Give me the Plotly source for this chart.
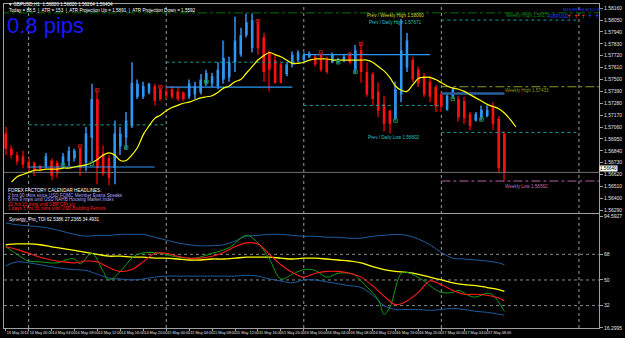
import plotly.graph_objects as go
from plotly.subplots import make_subplots

# ---------------- data ----------------
bar_index = list(range(88))
opens = [1.5700, 1.5686, 1.5680, 1.5679, 1.5674, 1.5673, 1.5670, 1.5670, 1.5675, 1.5673,
         1.5671, 1.5674, 1.5677, 1.5686, 1.5673, 1.5696, 1.5732, 1.5682, 1.5677, 1.5668,
         1.5688, 1.5696, 1.5707, 1.5734, 1.5734, 1.5738, 1.5744, 1.5741, 1.5739, 1.5741,
         1.5739, 1.5738, 1.5734, 1.5736, 1.5738, 1.5746, 1.5746, 1.5744, 1.5750, 1.5752,
         1.5766, 1.5773, 1.5791, 1.5779, 1.5803, 1.5789, 1.5775, 1.5768, 1.5764, 1.5755,
         1.5764, 1.5768, 1.5768, 1.5771, 1.5771, 1.5773, 1.5768, 1.5766, 1.5766, 1.5768,
         1.5773, 1.5759, 1.5777, 1.5757, 1.5755, 1.5739, 1.5727, 1.5721, 1.5714, 1.5736,
         1.5761, 1.5768, 1.5759, 1.5753, 1.5748, 1.5743, 1.5736, 1.5722, 1.5734, 1.5732,
         1.5730, 1.5718, 1.5712, 1.5714, 1.5716, 1.5726, 1.5714, 1.5700]
highs = [1.5706, 1.5689, 1.5683, 1.5684, 1.5677, 1.5674, 1.5671, 1.5682, 1.5677, 1.5675,
         1.5682, 1.5688, 1.5686, 1.5689, 1.5706, 1.5746, 1.5741, 1.5689, 1.5680, 1.5712,
         1.5706, 1.5720, 1.5766, 1.5750, 1.5748, 1.5747, 1.5746, 1.5744, 1.5744, 1.5744,
         1.5743, 1.5739, 1.5750, 1.5748, 1.5755, 1.5759, 1.5756, 1.5766, 1.5786, 1.5771,
         1.5808, 1.5798, 1.5811, 1.5811, 1.5805, 1.5793, 1.5777, 1.5773, 1.5766, 1.5766,
         1.5776, 1.5777, 1.5775, 1.5776, 1.5773, 1.5775, 1.5771, 1.5775, 1.5770, 1.5773,
         1.5775, 1.5782, 1.5784, 1.5766, 1.5757, 1.5747, 1.5735, 1.5722, 1.5748, 1.5806,
         1.5793, 1.5771, 1.5762, 1.5756, 1.5753, 1.5745, 1.5738, 1.5738, 1.5743, 1.5735,
         1.5734, 1.5720, 1.5720, 1.5726, 1.5726, 1.5729, 1.5716, 1.5702]
lows = [1.5680, 1.5677, 1.5671, 1.5668, 1.5665, 1.5661, 1.5665, 1.5668, 1.5657, 1.5659,
        1.5668, 1.5670, 1.5674, 1.5661, 1.5665, 1.5674, 1.5653, 1.5661, 1.5652, 1.5653,
        1.5680, 1.5685, 1.5705, 1.5732, 1.5732, 1.5736, 1.5726, 1.5730, 1.5732, 1.5732,
        1.5730, 1.5730, 1.5732, 1.5732, 1.5736, 1.5744, 1.5743, 1.5741, 1.5746, 1.5748,
        1.5757, 1.5771, 1.5789, 1.5775, 1.5773, 1.5748, 1.5739, 1.5746, 1.5746, 1.5753,
        1.5761, 1.5766, 1.5766, 1.5770, 1.5762, 1.5757, 1.5755, 1.5765, 1.5765, 1.5766,
        1.5764, 1.5756, 1.5747, 1.5734, 1.5726, 1.5715, 1.5702, 1.5700, 1.5712, 1.5729,
        1.5757, 1.5747, 1.5743, 1.5734, 1.5729, 1.5720, 1.5720, 1.5721, 1.5732, 1.5711,
        1.5709, 1.5703, 1.5711, 1.5712, 1.5715, 1.5703, 1.5663, 1.5656]
closes = [1.5686, 1.5680, 1.5674, 1.5671, 1.5668, 1.5665, 1.5666, 1.5679, 1.5661, 1.5663,
          1.5679, 1.5684, 1.5684, 1.5668, 1.5700, 1.5732, 1.5668, 1.5663, 1.5659, 1.5700,
          1.5700, 1.5712, 1.5747, 1.5746, 1.5744, 1.5746, 1.5730, 1.5732, 1.5735, 1.5734,
          1.5732, 1.5732, 1.5746, 1.5744, 1.5750, 1.5756, 1.5753, 1.5759, 1.5770, 1.5766,
          1.5786, 1.5791, 1.5803, 1.5805, 1.5779, 1.5757, 1.5759, 1.5747, 1.5747, 1.5764,
          1.5773, 1.5775, 1.5773, 1.5774, 1.5764, 1.5759, 1.5757, 1.5773, 1.5769, 1.5771,
          1.5766, 1.5777, 1.5757, 1.5736, 1.5732, 1.5721, 1.5709, 1.5709, 1.5741, 1.5777,
          1.5786, 1.5750, 1.5746, 1.5736, 1.5734, 1.5725, 1.5725, 1.5735, 1.5741, 1.5715,
          1.5714, 1.5707, 1.5718, 1.5722, 1.5722, 1.5709, 1.5668, 1.5664]

ma_index = list(range(1, 90))
ma_values = [1.5655, 1.5660, 1.5662, 1.5664, 1.5666, 1.5666, 1.5667, 1.5667, 1.5667, 1.5668,
             1.5668, 1.5669, 1.5670, 1.5671, 1.5673, 1.5676, 1.5680, 1.5682, 1.5680, 1.5675,
             1.5675, 1.5680, 1.5687, 1.5699, 1.5707, 1.5714, 1.5717, 1.5721, 1.5724, 1.5726,
             1.5728, 1.5729, 1.5731, 1.5733, 1.5734, 1.5735, 1.5738, 1.5742, 1.5744, 1.5748,
             1.5750, 1.5756, 1.5762, 1.5768, 1.5772, 1.5775, 1.5773, 1.5771, 1.5768, 1.5765,
             1.5765, 1.5766, 1.5768, 1.5769, 1.5769, 1.5769, 1.5768, 1.5768, 1.5768, 1.5768,
             1.5768, 1.5768, 1.5768, 1.5766, 1.5762, 1.5758, 1.5752, 1.5744, 1.5740, 1.5739,
             1.5745, 1.5751, 1.5752, 1.5752, 1.5750, 1.5747, 1.5744, 1.5742, 1.5741, 1.5739,
             1.5736, 1.5733, 1.5730, 1.5727, 1.5725, 1.5723, 1.5719, 1.5713, 1.5706]

# daily open segments
day_open_start = [4, 28, 52]
day_open_end = [26, 50, 74]
day_open_price = [1.5669, 1.5743, 1.5773]
today_open = {"start": 76, "end": 87, "price": 1.5737}

# dotted daily range levels
level_start = [4, 28, 52, 76, 76]
level_end = [28, 52, 76, 100, 100]
level_price = [1.5708, 1.5766, 1.5726, 1.5701, 1.5805]

weekly_high = 1.58117
weekly_mid = 1.57433
weekly_low = 1.5656
bid_price = 1.5664

red_marker_idx = [13, 16, 27, 44, 55, 60, 62]
red_marker_price = [1.5688, 1.5740, 1.5743, 1.5804, 1.5775, 1.5773, 1.5783]
green_marker_idx = [10, 15, 21, 35, 58, 61, 68, 78, 83]
green_marker_price = [1.5671, 1.5672, 1.5687, 1.5748, 1.5766, 1.5757, 1.5712, 1.5732, 1.5713]

price_ticks = [1.5629, 1.5640, 1.5651, 1.5662, 1.5673, 1.5684, 1.5695, 1.5706, 1.5717,
               1.5728, 1.5739, 1.5750, 1.5761, 1.5772, 1.5783, 1.5794, 1.5805, 1.5816]

day_sep_idx = [4, 28, 52, 76, 100]
time_tick_idx = list(range(0, 88, 4))
time_labels = ["13 May 2013",
               "14 May 00:00", "14 May 04:00", "14 May 08:00", "14 May 12:00", "14 May 16:00", "14 May 20:00",
               "15 May 00:00", "15 May 04:00", "15 May 08:00", "15 May 12:00", "15 May 16:00", "15 May 20:00",
               "16 May 00:00", "16 May 04:00", "16 May 08:00", "16 May 12:00", "16 May 16:00", "16 May 20:00",
               "17 May 00:00", "17 May 04:00", "17 May 08:00"]

# TDI indicator
tdi_index = list(range(0, 88, 2)) + [87]
tdi_upper = [90.0, 88.7, 88.0, 87.3, 86.0, 84.0, 82.0, 80.7, 81.3, 81.3,
             82.0, 82.0, 82.0, 80.0, 78.0, 76.0, 74.7, 74.0, 74.0, 74.7,
             77.3, 80.7, 81.3, 82.0, 82.0, 81.3, 80.7, 80.7, 80.0, 80.0,
             79.3, 79.3, 80.7, 81.3, 82.0, 81.3, 78.7, 74.7, 69.3, 65.3,
             64.7, 64.0, 63.3, 62.0, 60.7]
tdi_lower = [60.0, 62.7, 62.0, 60.7, 59.3, 58.0, 57.3, 56.7, 54.0, 51.3,
             50.7, 50.0, 50.7, 52.0, 52.7, 52.7, 52.7, 52.7, 52.7, 52.7,
             52.7, 53.3, 52.7, 50.7, 49.3, 48.0, 50.0, 50.0, 48.7, 47.3,
             46.0, 44.7, 39.3, 32.0, 29.3, 29.3, 29.3, 28.7, 29.3, 30.0,
             29.3, 28.0, 27.3, 26.0, 25.3]
tdi_base = [74.7, 75.3, 75.3, 74.7, 73.3, 72.0, 70.7, 69.3, 68.0, 66.7,
            66.7, 66.0, 66.0, 65.3, 65.3, 64.7, 64.0, 64.0, 64.7, 64.7,
            65.3, 66.0, 66.0, 66.0, 65.3, 64.7, 65.3, 65.3, 64.7, 64.0,
            63.3, 62.0, 59.3, 57.3, 56.0, 55.3, 54.0, 52.0, 50.0, 48.0,
            46.7, 46.0, 44.7, 43.3, 42.0]
tdi_signal = [73.3, 71.3, 68.7, 66.0, 64.0, 62.7, 62.0, 63.3, 62.7, 58.7,
              56.0, 57.3, 62.7, 68.7, 68.7, 66.7, 65.3, 65.3, 66.7, 69.3,
              73.3, 76.0, 75.3, 68.0, 60.7, 55.3, 52.0, 54.7, 56.0, 56.0,
              54.7, 52.0, 46.0, 38.7, 32.7, 35.3, 41.3, 49.3, 46.7, 42.7,
              40.0, 40.0, 39.3, 37.3, 35.3]
rsi_index = [0, 1, 3, 4, 6, 9, 11, 12, 13, 15, 17, 18, 20, 22, 23, 25, 27, 30, 33, 36,
             39, 42, 44, 46, 48, 50, 52, 54, 56, 58, 60, 61, 62, 65, 66, 67, 69, 70, 73, 74,
             76, 78, 79, 81, 82, 84, 85, 87]
rsi_values = [73.3, 70.7, 65.3, 63.3, 62.7, 62.0, 64.7, 64.7, 61.3, 68.7, 56.0, 50.0, 56.0, 65.3,
              68.0, 69.3, 68.7, 66.0, 65.3, 68.7, 72.7, 81.3, 76.0, 64.7, 50.7, 54.0, 57.3, 56.7,
              52.0, 54.7, 54.7, 53.3, 49.3, 36.0, 26.0, 30.7, 54.7, 55.3, 49.3, 46.0, 41.3, 41.3,
              42.7, 38.7, 38.0, 40.7, 39.3, 28.0]
tdi_levels = [68, 50, 32]
tdi_min, tdi_max = 16.2995, 94.5927

# ---------------- figure ----------------
W, H = 625, 338
ML, MR, MT, MB = 3, 22, 3, 8
PW, PH = W - ML - MR, H - MT - MB


def px(x, y):
    return (x - ML) / PW, (H - MB - y) / PH


FONT = "Liberation Sans"
fig = make_subplots(rows=2, cols=1, shared_xaxes=True)

bull = [c >= o for o, c in zip(opens, closes)]
wick_col = ["#2A6DB5" if b else "#A00000" for b in bull]
body_col = ["#2C97F5" if b else "#FF1010" for b in bull]

fig.add_trace(go.Bar(x=bar_index, base=lows, y=[h - l for h, l in zip(highs, lows)],
                     width=0.2, marker=dict(color=wick_col, line_width=0)), row=1, col=1)
fig.add_trace(go.Bar(x=bar_index, base=[min(o, c) for o, c in zip(opens, closes)],
                     y=[max(abs(c - o), 0.00004) for o, c in zip(opens, closes)],
                     width=0.45, marker=dict(color=body_col, line_width=0)), row=1, col=1)


def seg_trace(starts, ends, prices, color, dash, width):
    xs, ys = [], []
    for s, e, p in zip(starts, ends, prices):
        xs += [s, e, None]
        ys += [p, p, None]
    return go.Scatter(x=xs, y=ys, mode="lines", line=dict(color=color, dash=dash, width=width))


fig.add_trace(seg_trace([-1], [104], [weekly_high], "#0B6B0B", "dashdot", 1), row=1, col=1)
fig.add_trace(seg_trace([76], [104], [weekly_mid], "#8C9A1E", "dashdot", 1), row=1, col=1)
fig.add_trace(seg_trace([76], [104], [weekly_low], "#B060A8", "dashdot", 1), row=1, col=1)
fig.add_trace(seg_trace([-1], [104], [bid_price], "#707070", "solid", 1), row=1, col=1)
fig.add_trace(seg_trace(level_start, level_end, level_price, "#169C9C", "dot", 1), row=1, col=1)
fig.add_trace(seg_trace(day_open_start, day_open_end, day_open_price, "#2C97F5", "solid", 1.2), row=1, col=1)
fig.add_trace(seg_trace([today_open["start"]], [today_open["end"]], [today_open["price"]],
                        "#2A5F9E", "solid", 2.5), row=1, col=1)

fig.add_trace(go.Scatter(x=ma_index, y=ma_values, mode="lines",
                         line=dict(color="#FFFF00", width=1.2, shape="spline")), row=1, col=1)
fig.add_trace(go.Scatter(x=red_marker_idx, y=red_marker_price, mode="markers",
                         marker=dict(symbol="square-open", size=3.5, color="#B01818", line_width=1)), row=1, col=1)
fig.add_trace(go.Scatter(x=green_marker_idx, y=green_marker_price, mode="markers",
                         marker=dict(symbol="square-open", size=3.5, color="#209040", line_width=1)), row=1, col=1)

# TDI
fig.add_trace(go.Scatter(x=tdi_index, y=tdi_upper, mode="lines",
                         line=dict(color="#1F5C9E", width=1, shape="spline")), row=2, col=1)
fig.add_trace(go.Scatter(x=tdi_index, y=tdi_lower, mode="lines",
                         line=dict(color="#1F5C9E", width=1, shape="spline")), row=2, col=1)
fig.add_trace(go.Scatter(x=tdi_index, y=tdi_base, mode="lines",
                         line=dict(color="#FFFF00", width=1.3, shape="spline")), row=2, col=1)
fig.add_trace(go.Scatter(x=rsi_index, y=rsi_values, mode="lines",
                         line=dict(color="#0FA00F", width=1, shape="spline")), row=2, col=1)
fig.add_trace(go.Scatter(x=tdi_index, y=tdi_signal, mode="lines",
                         line=dict(color="#FF1A1A", width=1.1, shape="spline")), row=2, col=1)

shapes = []
for d in day_sep_idx:
    shapes.append(dict(type="line", xref="x", yref="paper", x0=d, x1=d, y0=0, y1=1,
                       line=dict(color="#9A9A9A", width=1, dash="dot"), layer="below"))
for lv in tdi_levels:
    shapes.append(dict(type="line", xref="paper", yref="y2", x0=0, x1=1, y0=lv, y1=lv,
                       line=dict(color="#8A8A8A", width=1, dash="dot"), layer="below"))

ann = []


def text(x, y, s, color="#FFFFFF", size=4.6, anchor="left"):
    ax, ay = px(x, y)
    ann.append(dict(x=ax, y=ay, xref="paper", yref="paper", text=s, showarrow=False,
                    xanchor=anchor, yanchor="middle", font=dict(family=FONT, size=size, color=color)))


text(6, 4.0, "\u25be GBPUSD,H1  1.56820 1.56820 1.56264 1.56434")
text(6, 9.4, "Today = 88.5  |  ATR = 153  |  ATR Projection Up = 1.5891  |  ATR Projection Down = 1.5592")
text(4, 25, "0.8 pips", color="#1818FF", size=22)
text(5, 191, "FOREX FACTORY CALENDAR HEADLINES:")
text(5, 196, "2 hrs 00 mins since USD FOMC Member Evans Speaks", color="#A8A8FF")
text(5, 200.5, "6 hrs 9 mins until USD NAHB Housing Market Index", color="#A8A8FF")
text(5, 205, "22 hrs 21 mins until GBP CPI y/y", color="#FF2020")
text(5, 209.5, "1 days 3 hrs 31 mins until USD Building Permits", color="#FF2020")
text(6, 220, "Synergy_Pro_TDI 62.5386 27.2365 34.4931")
text(367, 14.5, "Prev / Weekly High 1.58060", color="#D8D820")
text(369, 21.5, "Prev / Daily High 1.57671", color="#20C0C0")
text(368, 137.5, "Prev / Daily Low 1.56602", color="#20C0C0")
text(507, 14.5, "Weekly High 1.58171", color="#1E8C1E")
text(506, 90.5, "Weekly High 1.57433", color="#8C9A1E")
text(506, 187, "Weekly Low 1.56562", color="#C070B8")
text(551, 15.5, "GBPUSD", color="#2040FF")
text(565, 9, "M15 H1 H4 M D1 W1", color="#2040FF", size=4.2)
for i, c in enumerate(["#FF2020", "#FF2020", "#FF2020", "#2040FF", "#2040FF"]):
    text(569 + 7 * i, 15.5, "\u271d", color=c, size=5)

# bid price box
ann.append(dict(x=1.0, y=bid_price, xref="paper", yref="y", text="1.56640", showarrow=False,
                xanchor="left", yanchor="bottom", bgcolor="#FFFFFF", borderpad=0,
                font=dict(family=FONT, size=4.6, color="#000000")))

axis_common = dict(showgrid=False, zeroline=False, showline=True, mirror=True,
                   linecolor="#A0A0A0", linewidth=1)
fig.update_layout(
    width=W, height=H, margin=dict(l=ML, r=MR, t=MT, b=MB),
    paper_bgcolor="#000000", plot_bgcolor="#000000", showlegend=False,
    barmode="overlay", shapes=shapes, annotations=ann,
    xaxis=dict(range=[-0.3, 103.5], domain=[0, 1], showticklabels=False, ticks="", **axis_common),
    xaxis2=dict(range=[-0.3, 103.5], domain=[0, 1], tickvals=time_tick_idx, ticktext=time_labels,
                ticks="outside", ticklen=2, tickcolor="#A0A0A0", ticklabelposition="outside right",
                tickangle=0, tickfont=dict(family=FONT, size=3.8, color="#E0E0E0"), **axis_common),
    yaxis=dict(domain=[px(0, 213.5)[1], 1], range=[1.56268, 1.58199], side="right",
               tickvals=price_ticks, ticktext=["%.5f" % v for v in price_ticks],
               ticks="outside", ticklen=3, tickcolor="#A0A0A0",
               tickfont=dict(family=FONT, size=5, color="#E0E0E0"), **axis_common),
    yaxis2=dict(domain=[0, px(0, 214.5)[1]], range=[tdi_min, 96.6], side="right",
                tickvals=[tdi_min] + tdi_levels + [tdi_max],
                ticktext=["%.4f" % tdi_min] + [str(v) for v in tdi_levels] + ["%.4f" % tdi_max],
                ticks="outside", ticklen=3, tickcolor="#A0A0A0",
                tickfont=dict(family=FONT, size=5, color="#E0E0E0"), **axis_common),
)
fig.update_traces(hoverinfo="skip")
fig.write_html("out.html")
